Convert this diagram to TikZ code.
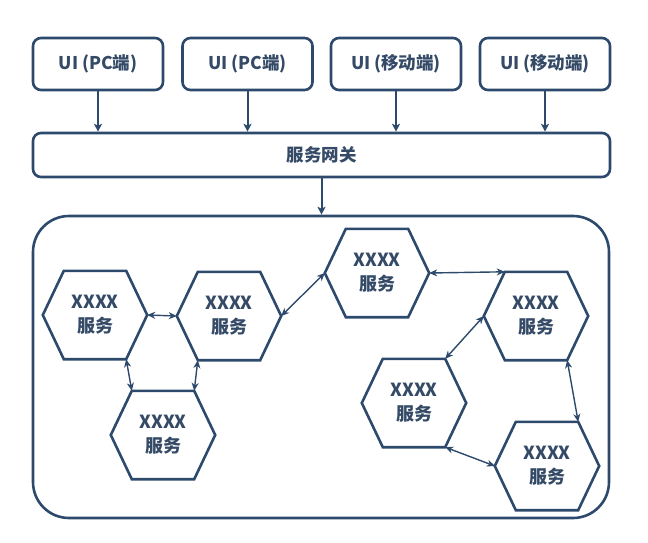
\documentclass[tikz,border=0pt]{standalone}
\usepackage{fontspec}
\setmainfont{Noto Sans CJK SC}
\usetikzlibrary{arrows.meta,calc}
\definecolor{navy}{HTML}{2D4A6C}
\definecolor{txt}{HTML}{344A66}
\begin{document}
\begin{tikzpicture}[x=1pt,y=-1pt,
  uibox/.style={draw=navy,line width=2.6pt,rounded corners=8pt,minimum width=130pt,minimum height=52pt,inner sep=0pt,text=txt,font=\fontsize{17.5}{20}\selectfont\bfseries},
  gwbox/.style={draw=navy,line width=2.6pt,rounded corners=8pt,minimum width=577pt,minimum height=44pt,inner sep=0pt,text=txt,font=\fontsize{17.5}{20}\selectfont\bfseries},
  bigbox/.style={draw=navy,line width=2.6pt,rounded corners=36pt,minimum width=576pt,minimum height=302pt,inner sep=0pt},
  hexbox/.style={minimum width=104pt,minimum height=88pt,inner sep=0pt,align=center,text=txt,font=\fontsize{18}{24}\selectfont\bfseries},
  hexline/.style={draw=navy,line width=2.6pt,line join=miter},
  downarrow/.style={draw=navy,line width=2pt,-{Stealth[length=8pt,width=8pt,inset=2pt]}},
  twoway/.style={draw=navy,line width=1.4pt,{Stealth[length=8pt,width=7pt,inset=2.5pt]}-{Stealth[length=8pt,width=7pt,inset=2.5pt]}}
]
\useasboundingbox (0,0) rectangle (648,542);
\node[uibox] (u1) at (98,64) {UI (PC端)};
\node[uibox] (u2) at (247.5,64) {UI (PC端)};
\node[uibox] (u3) at (396,64) {UI (移动端)};
\node[uibox] (u4) at (545,64) {UI (移动端)};
\node[gwbox] (gw) at (321.5,155) {服务网关};
\node[bigbox] (big) at (321,367) {};
\foreach \u in {u1,u2,u3,u4}
  \draw[downarrow] (\u.south) -- (\u.south |- gw.north);
\draw[downarrow] (gw.south) -- (gw.south |- big.north);

\node[hexbox] (h1) at (95,315) {XXXX\\服务};
\node[hexbox] (h2) at (229,316) {XXXX\\服务};
\node[hexbox] (h3) at (163,435) {XXXX\\服务};
\node[hexbox] (h4) at (377,273) {XXXX\\服务};
\node[hexbox] (h5) at (536,316) {XXXX\\服务};
\node[hexbox] (h6) at (414,403) {XXXX\\服务};
\node[hexbox] (h7) at (547,466) {XXXX\\服务};
\foreach \n in {h1,h2,h3,h4,h5,h6,h7}
  \draw[hexline] (\n.west) -- ($(\n.north west)+(21,0)$) -- ($(\n.north east)+(-21,0)$) -- (\n.east) -- ($(\n.south east)+(-21,0)$) -- ($(\n.south west)+(21,0)$) -- cycle;

\draw[twoway] (h1.east) -- (h2.west);
\draw[twoway] ($(h1.south east)+(-21,0)$) -- ($(h3.north west)+(21,0)$);
\draw[twoway] ($(h2.south west)+(21,0)$) -- ($(h3.north east)+(-21,0)$);
\draw[twoway] (h2.east) -- (h4.west);
\draw[twoway] (h4.east) -- ($(h5.north west)+(21,0)$);
\draw[twoway] (h5.west) -- ($(h6.north east)+(-21,0)$);
\draw[twoway] ($(h5.south east)+(-21,0)$) -- ($(h7.north east)+(-21,0)$);
\draw[twoway] ($(h6.south east)+(-21,0)$) -- (h7.west);
\end{tikzpicture}
\end{document}
